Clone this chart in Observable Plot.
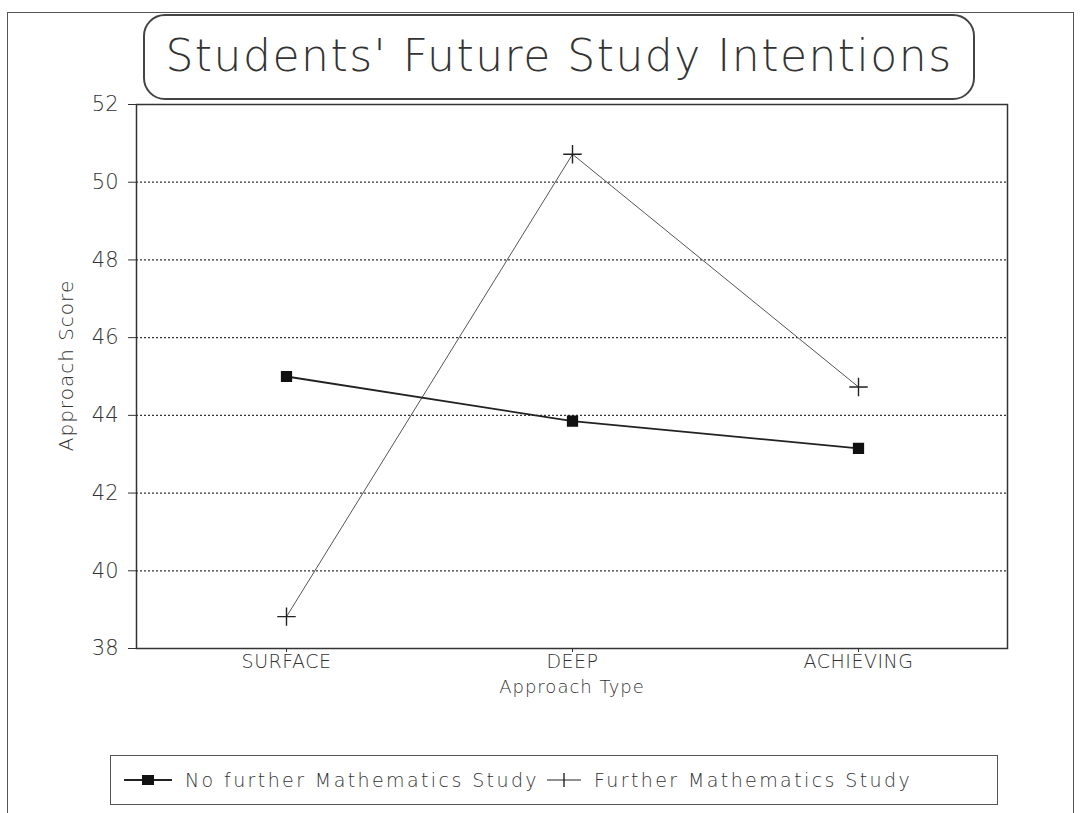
<!DOCTYPE html>
<html>
<head>
<meta charset="utf-8">
<script src="https://cdn.jsdelivr.net/npm/d3@7"></script>
<script src="https://cdn.jsdelivr.net/npm/@observablehq/plot@0.6"></script>
<style>
  html, body { margin: 0; padding: 0; background: #fff; overflow: hidden; }
  body { width: 1080px; height: 813px; position: relative; font-family: "DejaVu Sans", sans-serif; color: #333; }
  #outer { position: absolute; left: 7px; top: 12px; width: 1067px; height: 830px; border: 1.5px solid #555; box-sizing: border-box; }
  #title { position: absolute; left: 143px; top: 14px; width: 832px; height: 86px; box-sizing: border-box;
           border: 2px solid #444; border-radius: 22px; text-align: center; line-height: 80px;
           font-size: 44px; font-weight: 200; letter-spacing: 1.5px; color: #333; }
  #chart { position: absolute; left: 0; top: 84px; }
  #chart svg { background: transparent !important; }
  #legend { position: absolute; left: 110px; top: 755px; width: 888px; height: 50px; box-sizing: border-box;
            border: 1.5px solid #555; display: flex; align-items: center; padding-left: 12px;
            font-size: 19px; font-weight: 200; letter-spacing: 2.4px; color: #333; }
  #legend .item { display: flex; align-items: center; margin-right: 7px; }
  #legend svg { margin-right: 12px; }
</style>
</head>
<body>
<div id="outer"></div>
<div id="chart"></div>
<div id="title">Students' Future Study Intentions</div>
<div id="legend"></div>
<script>
const categories = ["SURFACE", "DEEP", "ACHIEVING"];
const noFurtherMath = [45.0, 43.85, 43.15];
const furtherMath = [38.82, 50.72, 44.73];
const yTicks = [38, 40, 42, 44, 46, 48, 50, 52];
const gridTicks = [40, 42, 44, 46, 48, 50];
const seriesNames = ["No further Mathematics Study", "Further Mathematics Study"];

const rowsNo = categories.map((c, i) => ({type: c, score: noFurtherMath[i]}));
const rowsF = categories.map((c, i) => ({type: c, score: furtherMath[i]}));

const chart = Plot.plot({
  width: 1080,
  height: 626,
  marginTop: 20,
  marginLeft: 136,
  marginRight: 73,
  marginBottom: 62,
  style: {fontFamily: "DejaVu Sans, sans-serif", fontWeight: 200, color: "#333", background: "transparent"},
  x: {type: "point", domain: categories, padding: 0.52},
  y: {domain: [38, 52]},
  marks: [
    Plot.ruleY(gridTicks, {stroke: "#333", strokeWidth: 1.3, strokeDasharray: "2,2"}),
    Plot.frame({stroke: "#333", strokeWidth: 1.5}),
    Plot.axisY({ticks: yTicks, tickSize: 8, tickPadding: 10, fontSize: 21, label: "Approach Score",
      labelAnchor: "center", labelArrow: "none", labelOffset: 78, stroke: "#333"}),
    Plot.axisX({tickSize: 4, tickPadding: 2, fontSize: 19, label: "Approach Type",
      labelAnchor: "center", labelArrow: "none", labelOffset: 44}),
    Plot.line(rowsF, {x: "type", y: "score", stroke: "#555", strokeWidth: 1}),
    Plot.dot(rowsF, {x: "type", y: "score", symbol: "plus", stroke: "#222", strokeWidth: 1.4, r: 6}),
    Plot.line(rowsNo, {x: "type", y: "score", stroke: "#222", strokeWidth: 1.8}),
    Plot.dot(rowsNo, {x: "type", y: "score", symbol: "square", fill: "#111", stroke: "#111", r: 5.5})
  ]
});
const sel = d3.select(chart);
sel.selectAll("[aria-label='x-axis tick label'] text").style("letter-spacing", "0.5px");
sel.selectAll("[aria-label='y-axis label'] text")
  .style("font-size", "20px").style("letter-spacing", "1px")
  .attr("transform", function() {
    const t = this.getAttribute("transform") || "";
    return t.replace(/translate\(([-\d.]+),\s*([-\d.]+)\)/, (m, x, y) => `translate(${x},${+y - 11})`);
  });
sel.selectAll("[aria-label='x-axis label'] text").style("font-size", "18px").style("letter-spacing", "1px");
document.getElementById("chart").appendChild(chart);

// Legend
const legend = d3.select("#legend");
seriesNames.forEach((name, i) => {
  const item = legend.append("div").attr("class", "item");
  const w = i === 0 ? 50 : 36;
  const svg = item.append("svg").attr("width", w).attr("height", 20);
  svg.append("line").attr("x1", 1).attr("x2", w - 1).attr("y1", 10).attr("y2", 10)
     .attr("stroke", "#222").attr("stroke-width", i === 0 ? 2 : 1.2);
  if (i === 0) {
    svg.append("rect").attr("x", 19).attr("y", 5).attr("width", 12).attr("height", 10).attr("fill", "#111");
  } else {
    svg.append("line").attr("x1", w / 2).attr("x2", w / 2).attr("y1", 3).attr("y2", 17).attr("stroke", "#222").attr("stroke-width", 1.4);
  }
  item.append("span").text(name);
});
</script>
</body>
</html>
